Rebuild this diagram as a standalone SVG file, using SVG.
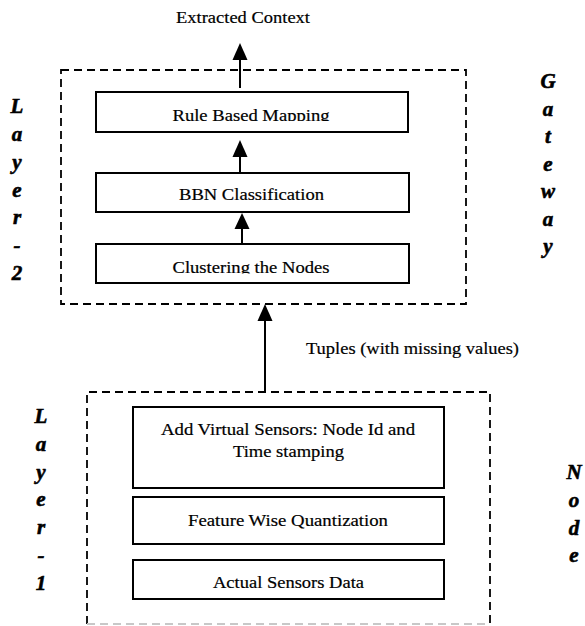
<svg xmlns="http://www.w3.org/2000/svg" width="585" height="626" viewBox="0 0 585 626">
<style>
.dash{fill:none;stroke:#000;stroke-width:1.8;stroke-dasharray:8 5}
.box{fill:#fff;stroke:#000;stroke-width:2}
.line{stroke:#000;stroke-width:2;fill:none}
</style>
<defs>
<clipPath id="clipRule"><rect x="96" y="92" width="312" height="29"/></clipPath>
<clipPath id="clipClus"><rect x="96" y="244" width="313" height="29.5"/></clipPath>
</defs>
<rect fill="#fff" x="0" y="0" width="585" height="626"/>

<g id="gateway-layer">
<rect class="dash" x="61" y="70" width="405" height="234"/>
</g>
<g id="node-layer">
<path class="dash" d="M87,624 L87,392 L490,392 L490,624"/>
<path d="M87,624 L490,624" fill="none" stroke="#c8c8c8" stroke-width="1.8" stroke-dasharray="8 5"/>
</g>

<g id="connectors">
<polygon points="240,43 232.5,60 247.5,60" fill="#000"/>
<line class="line" x1="240" y1="59" x2="240" y2="88"/>
<polygon points="240,140 232.5,157 247.5,157" fill="#000"/>
<line class="line" x1="240" y1="156" x2="240" y2="173"/>
<polygon points="242,213 234.5,229 249.5,229" fill="#000"/>
<line class="line" x1="242" y1="228" x2="242" y2="244"/>
<polygon points="265,304 257.5,321 272.5,321" fill="#000"/>
<line class="line" x1="265" y1="320" x2="265" y2="392"/>
</g>

<g font-family="'Liberation Serif', 'Times New Roman', Times, serif" font-size="16.5" fill="#000" stroke="#000" stroke-width="0.2">
<g id="extracted-context">
<text x="243" y="22.5" text-anchor="middle" textLength="134" lengthAdjust="spacingAndGlyphs">Extracted Context</text>
</g>
<g id="rule-based-mapping">
<rect class="box" x="96" y="92" width="312" height="40"/>
<text x="251" y="120.5" text-anchor="middle" textLength="157" lengthAdjust="spacingAndGlyphs" clip-path="url(#clipRule)">Rule Based Mapping</text>
</g>
<g id="bbn-classification">
<rect class="box" x="96" y="173" width="313" height="39"/>
<text x="251.5" y="200" text-anchor="middle" textLength="145" lengthAdjust="spacingAndGlyphs">BBN Classification</text>
</g>
<g id="clustering">
<rect class="box" x="96" y="244" width="313" height="39"/>
<text x="251" y="273" text-anchor="middle" textLength="157" lengthAdjust="spacingAndGlyphs" clip-path="url(#clipClus)">Clustering the Nodes</text>
</g>
<g id="tuples-label">
<text x="306" y="354" textLength="213" lengthAdjust="spacingAndGlyphs">Tuples (with missing values)</text>
</g>
<g id="virtual-sensors">
<rect class="box" x="133" y="407" width="311" height="81"/>
<text x="288" y="435" text-anchor="middle" textLength="254" lengthAdjust="spacingAndGlyphs">Add Virtual Sensors: Node Id and</text>
<text x="288.5" y="457" text-anchor="middle" textLength="111" lengthAdjust="spacingAndGlyphs">Time stamping</text>
</g>
<g id="quantization">
<rect class="box" x="133" y="497" width="311" height="47"/>
<text x="288" y="526" text-anchor="middle" textLength="200" lengthAdjust="spacingAndGlyphs">Feature Wise Quantization</text>
</g>
<g id="sensors-data">
<rect class="box" x="133" y="560" width="311" height="39"/>
<text x="288.5" y="588" text-anchor="middle" textLength="151" lengthAdjust="spacingAndGlyphs">Actual Sensors Data</text>
</g>
</g>

<g font-family="'Liberation Serif', 'Times New Roman', Times, serif" font-size="21" font-weight="700" font-style="italic" fill="#000" stroke="#000" stroke-width="0.6" text-anchor="middle">
<g id="label-layer2">
<text x="17" y="113">L</text>
<text x="17" y="141">a</text>
<text x="17" y="169">y</text>
<text x="17" y="197">e</text>
<text x="17" y="224">r</text>
<text x="17" y="252">-</text>
<text x="17" y="280">2</text>
</g>
<g id="label-gateway">
<text x="548" y="88">G</text>
<text x="548" y="115.5">a</text>
<text x="548" y="143">t</text>
<text x="548" y="170.5">e</text>
<text x="548" y="198">w</text>
<text x="548" y="225.5">a</text>
<text x="548" y="253">y</text>
</g>
<g id="label-layer1">
<text x="41" y="423">L</text>
<text x="41" y="451">a</text>
<text x="41" y="479">y</text>
<text x="41" y="506">e</text>
<text x="41" y="534">r</text>
<text x="41" y="562">-</text>
<text x="41" y="590">1</text>
</g>
<g id="label-node">
<text x="574" y="479">N</text>
<text x="574" y="507">o</text>
<text x="574" y="535">d</text>
<text x="574" y="562">e</text>
</g>
</g>
</svg>
